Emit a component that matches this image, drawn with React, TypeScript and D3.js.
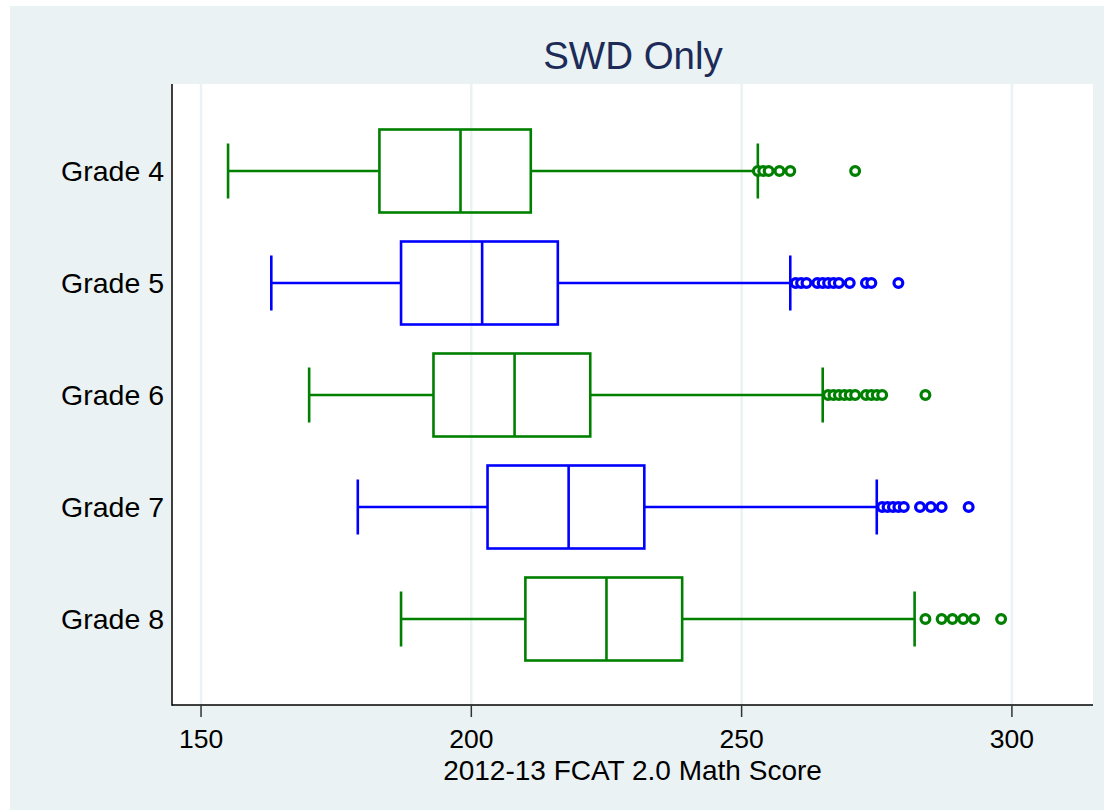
import React from "react";
import * as d3 from "d3";

// Box plot of 2012-13 FCAT 2.0 Math scores for students with disabilities, by grade
const grades = ["Grade 4", "Grade 5", "Grade 6", "Grade 7", "Grade 8"];
const whiskerLow = [155, 163, 170, 179, 187];
const q1 = [183, 187, 193, 203, 210];
const median = [198, 202, 208, 218, 225];
const q3 = [211, 216, 222, 232, 239];
const whiskerHigh = [253, 259, 265, 275, 282];
const outliers4 = [253, 254, 255, 257, 259, 271];
const outliers5 = [260, 261, 262, 264, 265, 266, 267, 268, 270, 273, 274, 279];
const outliers6 = [266, 267, 268, 269, 270, 271, 273, 274, 275, 276, 284];
const outliers7 = [276, 277, 278, 279, 280, 283, 285, 287, 292];
const outliers8 = [284, 287, 289, 291, 293, 298];
const outliers = [outliers4, outliers5, outliers6, outliers7, outliers8];
const boxColors = ["#008000", "#0000ff", "#008000", "#0000ff", "#008000"];
const xTicks = [150, 200, 250, 300];

const W = 1104;
const H = 810;
const plot = { left: 172, right: 1093, top: 84, bottom: 705 };
const FONT = "'Liberation Sans', Arial, Helvetica, sans-serif";

export default function App() {
  const x = d3.scaleLinear().domain([144.63, 315.0]).range([plot.left, plot.right]);
  const y = d3.scaleLinear().domain([0, 4]).range([171, 619]);
  const boxHalf = 41.5;
  const capHalf = 27.5;
  const sw = 2.6;

  return (
    <svg
      width={W}
      height={H}
      style={{ position: "absolute", left: 0, top: 0, display: "block" }}
      fontFamily={FONT}
    >
      <rect x={0} y={0} width={W} height={H} fill="#ffffff" />
      <rect x={10} y={6} width={W - 10} height={H - 6} fill="#eaf2f3" />
      <rect
        x={plot.left}
        y={plot.top}
        width={plot.right - plot.left}
        height={plot.bottom - plot.top}
        fill="#ffffff"
      />
      {/* vertical grid lines */}
      {xTicks.map((t) => (
        <line
          key={"g" + t}
          x1={x(t)}
          x2={x(t)}
          y1={plot.top}
          y2={plot.bottom}
          stroke="#eaf2f3"
          strokeWidth={2.5}
        />
      ))}
      {/* boxes */}
      {grades.map((g, i) => {
        const cy = y(i);
        const c = boxColors[i];
        return (
          <g key={g} stroke={c} fill="none" strokeWidth={sw}>
            <line x1={x(whiskerLow[i])} x2={x(q1[i])} y1={cy} y2={cy} />
            <line x1={x(q3[i])} x2={x(whiskerHigh[i])} y1={cy} y2={cy} />
            <line x1={x(whiskerLow[i])} x2={x(whiskerLow[i])} y1={cy - capHalf} y2={cy + capHalf} />
            <line x1={x(whiskerHigh[i])} x2={x(whiskerHigh[i])} y1={cy - capHalf} y2={cy + capHalf} />
            <rect x={x(q1[i])} y={cy - boxHalf} width={x(q3[i]) - x(q1[i])} height={boxHalf * 2} />
            <line x1={x(median[i])} x2={x(median[i])} y1={cy - boxHalf} y2={cy + boxHalf} />
            {outliers[i].map((v, k) => (
              <circle key={k} cx={x(v)} cy={cy} r={4.4} strokeWidth={3.2} fill="#ffffff" />
            ))}
          </g>
        );
      })}
      {/* axes */}
      <line x1={plot.left} x2={plot.left} y1={plot.top} y2={plot.bottom + 0.75} stroke="#000" strokeWidth={1.5} />
      <line x1={plot.left} x2={plot.right} y1={plot.bottom} y2={plot.bottom} stroke="#000" strokeWidth={1.5} />
      {xTicks.map((t) => (
        <g key={"t" + t}>
          <line x1={x(t)} x2={x(t)} y1={plot.bottom} y2={plot.bottom + 12} stroke="#333" strokeWidth={1.5} />
          <text x={x(t)} y={747.5} textAnchor="middle" fontSize={26.5} fill="#000">
            {t}
          </text>
        </g>
      ))}
      {grades.map((g, i) => (
        <text key={"l" + g} x={164} y={y(i) + 10} textAnchor="end" fontSize={28.5} fill="#000">
          {g}
        </text>
      ))}
      <text x={(plot.left + plot.right) / 2} y={779.5} textAnchor="middle" fontSize={28} fill="#000">
        2012-13 FCAT 2.0 Math Score
      </text>
      <text x={633} y={69} textAnchor="middle" fontSize={38.5} fill="#1c2b58">
        SWD Only
      </text>
    </svg>
  );
}
